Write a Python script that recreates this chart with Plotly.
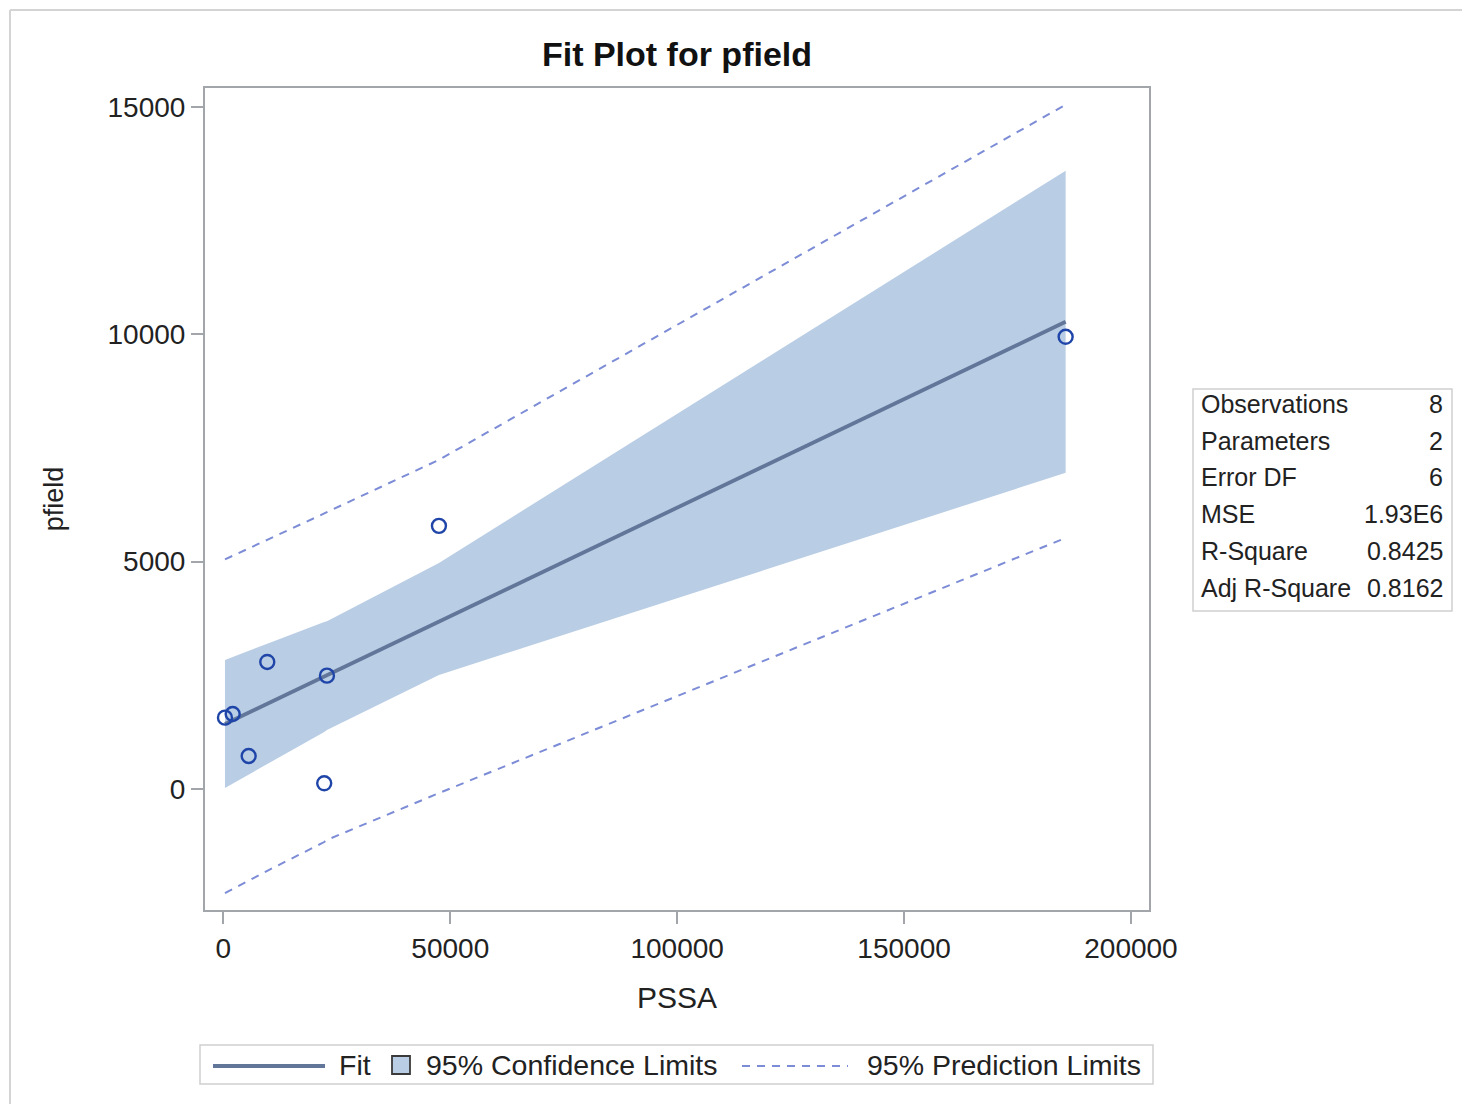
import plotly.graph_objects as go

# ---------------- data ----------------
pssa = [350, 2050, 5570, 9670, 22220, 22820, 47500, 185600]
pfield = [1569, 1650, 726, 2794, 125, 2493, 5787, 9945]

fit_x = [350, 2050, 5570, 9670, 22220, 22820, 47500, 185600]
fit_y = [1430, 1511, 1679, 1875, 2474, 2503, 3681, 10275]
clm_upper = [2838, 2906, 3043, 3196, 3674, 3690, 4972, 13597]
clm_lower = [20, 121, 322, 549, 1254, 1300, 2508, 6953]
pl_upper = [5050, 5130, 5300, 5480, 6060, 6090, 7239, 15050]
pl_lower = [-2288, -2200, -2000, -1800, -1166, -1120, -90, 5523]

stat_labels = ["Observations", "Parameters", "Error DF", "MSE", "R-Square", "Adj R-Square"]
stat_values = ["8", "2", "6", "1.93E6", "0.8425", "0.8162"]

x_ticks = [0, 50000, 100000, 150000, 200000]
y_ticks = [0, 5000, 10000, 15000]

# ---------------- styling ----------------
W, H = 1462, 1104
L, R, T, B = 205, 1149, 88, 910  # plot area in pixels
FONT = "Liberation Sans, Arial, sans-serif"
FILL = "#b9cde5"
FIT_C = "#62769a"
PT_C = "#1f45a8"
PL_C = "#7d8cd6"
FRAME_C = "#a2a6ab"
TXT = "#222222"


def px(x):
    return (x - L) / (R - L)


def py(y):
    return (B - y) / (B - T)


fig = go.Figure()

# confidence band
fig.add_trace(go.Scatter(
    x=fit_x + fit_x[::-1],
    y=clm_upper + clm_lower[::-1],
    fill="toself", fillcolor=FILL, mode="lines",
    line=dict(width=0, color=FILL), hoverinfo="skip", showlegend=False,
))
# prediction limits
for yy in (pl_upper, pl_lower):
    fig.add_trace(go.Scatter(
        x=fit_x, y=yy, mode="lines",
        line=dict(color=PL_C, width=2, dash="8px,7px"), showlegend=False,
    ))
# fit
fig.add_trace(go.Scatter(
    x=fit_x, y=fit_y, mode="lines",
    line=dict(color=FIT_C, width=3.8), showlegend=False,
))
# observations
fig.add_trace(go.Scatter(
    x=pssa, y=pfield, mode="markers",
    marker=dict(symbol="circle-open", size=14, color=PT_C, line=dict(width=2.4, color=PT_C)),
    showlegend=False,
))

axis_common = dict(
    showgrid=False, zeroline=False, showline=True, linecolor=FRAME_C, linewidth=2,
    mirror=True, ticks="outside", ticklen=12, tickwidth=1.5, tickcolor=FRAME_C,
    tickfont=dict(family=FONT, size=28, color=TXT),
)
fig.update_xaxes(
    range=[-4050, 203970], tickvals=x_ticks, ticktext=[str(v) for v in x_ticks],
    title=dict(text="PSSA", font=dict(family=FONT, size=30, color=TXT), standoff=24),
    **axis_common,
)
fig.update_yaxes(
    range=[-2661, 15417], tickvals=y_ticks, ticktext=[str(v) for v in y_ticks],
    title=dict(text="pfield", font=dict(family=FONT, size=27, color=TXT), standoff=36),
    **axis_common,
)

shapes = []
annotations = []

# outer page frame
shapes.append(dict(type="line", xref="paper", yref="paper", x0=px(10), x1=px(1462), y0=py(10), y1=py(10),
                   line=dict(color="#d4d4d4", width=2)))
shapes.append(dict(type="line", xref="paper", yref="paper", x0=px(10), x1=px(10), y0=py(10), y1=py(1104),
                   line=dict(color="#d4d4d4", width=2)))

# statistics box
shapes.append(dict(type="rect", xref="paper", yref="paper", x0=px(1193), x1=px(1452), y0=py(389), y1=py(611),
                   line=dict(color="#cfcfcf", width=1.5), fillcolor="white"))
row_y = [404, 441, 477, 514, 551, 588]
for lab, val, ry in zip(stat_labels, stat_values, row_y):
    annotations.append(dict(xref="paper", yref="paper", x=px(1199), y=py(ry), text=lab, showarrow=False,
                            xanchor="left", yanchor="middle", font=dict(family=FONT, size=25, color=TXT)))
    annotations.append(dict(xref="paper", yref="paper", x=px(1445), y=py(ry), text=val, showarrow=False,
                            xanchor="right", yanchor="middle", font=dict(family=FONT, size=25, color=TXT)))

# legend
shapes.append(dict(type="rect", xref="paper", yref="paper", x0=px(200), x1=px(1153), y0=py(1045), y1=py(1084),
                   line=dict(color="#cfcfcf", width=1.5), fillcolor="white"))
shapes.append(dict(type="line", xref="paper", yref="paper", x0=px(213), x1=px(325), y0=py(1066), y1=py(1066),
                   line=dict(color=FIT_C, width=4)))
shapes.append(dict(type="rect", xref="paper", yref="paper", x0=px(392), x1=px(410), y0=py(1056), y1=py(1074),
                   line=dict(color="#3a3a3a", width=1.8), fillcolor=FILL))
shapes.append(dict(type="line", xref="paper", yref="paper", x0=px(742), x1=px(848), y0=py(1066), y1=py(1066),
                   line=dict(color=PL_C, width=2, dash="8px,7px")))
for txt, xl in (("Fit", 337), ("95% Confidence Limits", 424), ("95% Prediction Limits", 865)):
    annotations.append(dict(xref="paper", yref="paper", x=px(xl), y=py(1065), text=txt, showarrow=False,
                            xanchor="left", yanchor="middle", font=dict(family=FONT, size=28.5, color=TXT)))

fig.update_layout(
    width=W, height=H, autosize=False,
    margin=dict(l=L, r=W - R, t=T, b=H - B, pad=0),
    paper_bgcolor="white", plot_bgcolor="white",
    title=dict(text="Fit Plot for pfield", x=0.5, xref="paper", y=1 - 54 / H, yref="container",
               xanchor="center", yanchor="middle",
               font=dict(family=FONT, size=34, color="#111111", weight="bold")),
    shapes=shapes, annotations=annotations, showlegend=False,
)

fig.write_html("out.html", config={"displayModeBar": False},
               post_script="document.body.style.margin='0';document.body.style.overflow='hidden';")
